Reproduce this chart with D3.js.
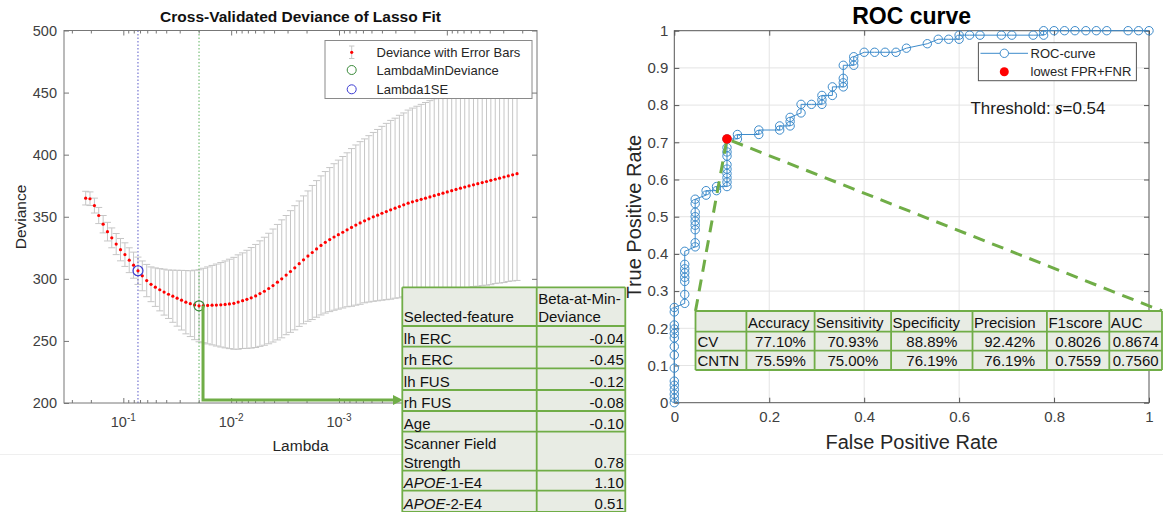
<!DOCTYPE html>
<html>
<head>
<meta charset="utf-8">
<script src="https://cdn.jsdelivr.net/npm/d3@7"></script>
<style>
  body { margin: 0; background: #fff; }
  svg { display: block; font-family: "Liberation Sans", Arial, Helvetica, sans-serif; }
</style>
</head>
<body>
<svg id="fig" width="1163" height="512"></svg>
<script>
// lasso path: log10(lambda) of the 100 fitted lambdas
const lambdaExp = [
  -0.651, -0.691, -0.732, -0.772, -0.813, -0.853, -0.893, -0.934, -0.974, -1.015,
  -1.055, -1.095, -1.136, -1.176, -1.217, -1.257, -1.297, -1.338, -1.378, -1.419,
  -1.459, -1.499, -1.540, -1.580, -1.621, -1.661, -1.702, -1.742, -1.782, -1.823,
  -1.863, -1.904, -1.944, -1.984, -2.025, -2.065, -2.106, -2.146, -2.186, -2.227,
  -2.267, -2.308, -2.348, -2.388, -2.429, -2.469, -2.510, -2.550, -2.590, -2.631,
  -2.671, -2.712, -2.752, -2.792, -2.833, -2.873, -2.914, -2.954, -2.994, -3.035,
  -3.075, -3.116, -3.156, -3.196, -3.237, -3.277, -3.318, -3.358, -3.398, -3.439,
  -3.479, -3.520, -3.560, -3.600, -3.641, -3.681, -3.722, -3.762, -3.802, -3.843,
  -3.883, -3.924, -3.964, -4.004, -4.045, -4.085, -4.126, -4.166, -4.206, -4.247,
  -4.287, -4.328, -4.368, -4.408, -4.449, -4.489, -4.530, -4.570, -4.610, -4.651
];
const deviance = [
  365, 364.5, 359, 351, 344, 338, 333, 328, 323.5, 319.5,
  315, 311, 306.5, 302.4, 298.6, 295.6, 293.3, 291.2, 289.3, 287.6,
  286, 284.4, 282.8, 281.2, 280, 279, 278.3, 278.5, 278.6, 278.8,
  278.9, 279.1, 279.4, 279.8, 280.3, 281.3, 282.4, 283.5, 284.7, 286.2,
  288.1, 290, 292.2, 294.6, 297.3, 300, 303, 305.9, 308.9, 312.2,
  315.3, 318.3, 321.2, 324.1, 326.9, 329.4, 331.6, 333.7, 335.6, 337.5,
  339.5, 341.4, 343.3, 345, 346.7, 348.3, 349.9, 351.3, 352.8, 354.2,
  355.6, 356.9, 358.2, 359.6, 360.9, 362, 363, 364, 365, 366,
  367, 368, 369, 370, 371, 372, 373, 373.9, 374.8, 375.7,
  376.6, 377.5, 378.4, 379.3, 380.2, 381.1, 382, 382.9, 383.8, 384.7
];
const devianceSE = [
  5.5, 5.5, 6, 6.5, 7, 7.5, 8, 8.5, 9, 9.5,
  10, 10.5, 11, 12, 13, 14, 15.5, 17, 18.5, 19.5,
  21, 22.5, 24, 25.5, 26.5, 28, 29, 30, 31, 32,
  33, 34, 35, 36, 37, 38, 38.5, 39.5, 40.5, 41.5,
  42.5, 43.5, 44.5, 45.5, 46.5, 47.5, 48, 49, 50, 50.5,
  51.5, 52.5, 54, 55, 56, 57, 58, 59, 60, 61,
  62, 63.5, 64.5, 65.5, 66, 67, 68, 69, 70, 71,
  72, 72.5, 73.5, 74, 75, 75.5, 76, 76.5, 77, 77.5,
  78, 78.5, 79, 79.5, 80, 80.5, 81, 81.5, 82, 82,
  82.5, 83, 83.5, 84, 84, 84.5, 85, 85, 85.5, 86
];
const lambdaMinIdx = 26;
const lambda1SEIdx = 12;

// ROC curve points
const rocFPR = [
  0, 0, 0, 0, 0, 0, 0, 0, 0, 0, 0, 0, 0, 0, 0,
  0.022, 0.022, 0.022, 0.022, 0.022, 0.022, 0.022, 0.022,
  0.044, 0.044, 0.044, 0.044, 0.044, 0.044, 0.044, 0.044, 0.044,
  0.067, 0.067, 0.089, 0.089,
  0.111, 0.111, 0.111, 0.111, 0.111, 0.111, 0.111, 0.111, 0.111, 0.111,
  0.133, 0.133, 0.178, 0.178, 0.222, 0.222, 0.244, 0.244, 0.244,
  0.267, 0.267, 0.289, 0.311, 0.311, 0.311, 0.333, 0.333,
  0.356, 0.356, 0.356, 0.356, 0.378, 0.378, 0.378,
  0.400, 0.422, 0.444, 0.467, 0.489, 0.533, 0.556, 0.578,
  0.600, 0.600, 0.622, 0.644, 0.689, 0.711, 0.756, 0.778, 0.778,
  0.800, 0.822, 0.844, 0.867, 0.889, 0.911, 0.956, 0.978, 1.000
];
const rocTPR = [
  0, 0.012, 0.023, 0.035, 0.047, 0.058, 0.093, 0.128, 0.151, 0.174, 0.186, 0.198, 0.209, 0.244, 0.256,
  0.267, 0.291, 0.326, 0.337, 0.349, 0.360, 0.372, 0.407,
  0.419, 0.430, 0.465, 0.477, 0.488, 0.500, 0.512, 0.535, 0.547,
  0.558, 0.570, 0.570, 0.581,
  0.581, 0.593, 0.605, 0.616, 0.628, 0.640, 0.663, 0.674, 0.686, 0.709,
  0.709, 0.721, 0.721, 0.733, 0.733, 0.744, 0.744, 0.756, 0.767,
  0.779, 0.802, 0.802, 0.802, 0.814, 0.826, 0.826, 0.849,
  0.849, 0.860, 0.872, 0.907, 0.907, 0.919, 0.930,
  0.942, 0.942, 0.942, 0.942, 0.953, 0.965, 0.977, 0.977,
  0.977, 0.988, 0.988, 0.988, 0.988, 0.988, 0.988, 0.988, 1,
  1, 1, 1, 1, 1, 1, 1, 1, 1
];
const bestFPR = 0.111, bestTPR = 0.709;
const threshold = 0.54;

// tables
const featureNames = ["lh ERC", "rh ERC", "lh FUS", "rh FUS", "Age", "Scanner Field Strength", "APOE-1-E4", "APOE-2-E4"];
const featureBeta = [-0.04, -0.45, -0.12, -0.08, -0.10, 0.78, 1.10, 0.51];
const metricNames = ["Accuracy", "Sensitivity", "Specificity", "Precision", "F1score", "AUC"];
const cvMetrics = [0.7710, 0.7093, 0.8889, 0.9242, 0.8026, 0.8674];
const cntnMetrics = [0.7559, 0.7500, 0.7619, 0.7619, 0.7559, 0.7560];

const svg = d3.select("#fig");
const green = "#70ad47";
const tableFill = "#e8ece4";

svg.append("line").attr("x1", 0).attr("x2", 1163).attr("y1", 454.5).attr("y2", 454.5)
  .attr("stroke", "#efefef");

function tidy(g, stroke, size) {
  g.select(".domain").remove();
  g.attr("font-family", null).attr("font-size", size);
  g.selectAll(".tick line").attr("stroke", stroke);
  g.selectAll(".tick text").attr("fill", "#404040");
}

// ================= Lasso deviance plot =================
const lx = d3.scaleLog().domain([10 ** -0.45, 10 ** -4.836]).range([64, 537]);
const ly = d3.scaleLinear().domain([200, 500]).range([403, 30.5]);
const lasso = svg.append("g");
const pts = lambdaExp.map((e, i) => ({ lam: 10 ** e, dev: deviance[i], se: devianceSE[i] }));

const bars = lasso.append("g").attr("stroke", "#c6c6c6").attr("stroke-width", 1).attr("fill", "none");
bars.selectAll("path").data(pts).join("path")
  .attr("d", d => {
    const x = lx(d.lam), y0 = ly(d.dev - d.se), y1 = ly(d.dev + d.se);
    return `M${x},${y0}V${y1}M${x - 3.5},${y1}H${x + 3.5}M${x - 3.5},${y0}H${x + 3.5}`;
  });

lasso.append("line")
  .attr("x1", lx(pts[lambda1SEIdx].lam)).attr("x2", lx(pts[lambda1SEIdx].lam))
  .attr("y1", ly(200)).attr("y2", ly(500))
  .attr("stroke", "#5a5ac8").attr("stroke-dasharray", "1.5,2");
lasso.append("line")
  .attr("x1", lx(pts[lambdaMinIdx].lam)).attr("x2", lx(pts[lambdaMinIdx].lam))
  .attr("y1", ly(200)).attr("y2", ly(500))
  .attr("stroke", "#5fb45f").attr("stroke-dasharray", "1.5,2");

lasso.append("g").selectAll("circle").data(pts).join("circle")
  .attr("cx", d => lx(d.lam)).attr("cy", d => ly(d.dev)).attr("r", 1.6).attr("fill", "#ff0000");

lasso.append("circle")
  .attr("cx", lx(pts[lambdaMinIdx].lam)).attr("cy", ly(pts[lambdaMinIdx].dev)).attr("r", 5)
  .attr("fill", "none").attr("stroke", "#3a8a3a").attr("stroke-width", 1.2);
lasso.append("circle")
  .attr("cx", lx(pts[lambda1SEIdx].lam)).attr("cy", ly(pts[lambda1SEIdx].dev)).attr("r", 5)
  .attr("fill", "none").attr("stroke", "#3c3cd2").attr("stroke-width", 1.2);

// legend
const lg = lasso.append("g").attr("font-size", 13).attr("fill", "#262626");
lg.append("rect").attr("x", 325).attr("y", 40.5).attr("width", 207).attr("height", 58)
  .attr("fill", "#fff").attr("stroke", "#8a8a8a");
lg.append("path").attr("d", "M351.7,46V58.5M349,46H354.4M349,58.5H354.4").attr("stroke", "#c6c6c6").attr("fill", "none");
lg.append("circle").attr("cx", 351.7).attr("cy", 52.3).attr("r", 1.6).attr("fill", "#ff0000");
lg.append("circle").attr("cx", 351.7).attr("cy", 70).attr("r", 4.5).attr("fill", "none").attr("stroke", "#3a8a3a");
lg.append("circle").attr("cx", 351.7).attr("cy", 89.3).attr("r", 4.5).attr("fill", "none").attr("stroke", "#3c3cd2");
lg.selectAll("text").data(["Deviance with Error Bars", "LambdaMinDeviance", "Lambda1SE"]).join("text")
  .attr("x", 376.5).attr("y", (d, i) => [56.8, 74.6, 93.8][i]).text(d => d);

// axes
const majors = [1e-1, 1e-2, 1e-3, 1e-4];
const minors = lx.ticks().filter(t => !majors.some(m => Math.abs(t - m) / m < 1e-6));
const axC = "#777";
lasso.append("g").attr("transform", "translate(0,403)")
  .call(d3.axisBottom(lx).tickValues(majors).tickSize(-5).tickFormat("")).call(tidy, axC, 14);
lasso.append("g").attr("transform", "translate(0,403)")
  .call(d3.axisBottom(lx).tickValues(minors).tickSize(-3).tickFormat("")).call(tidy, axC, 14);
lasso.append("g").attr("transform", "translate(0,30.5)")
  .call(d3.axisTop(lx).tickValues(majors).tickSize(-5).tickFormat("")).call(tidy, axC, 14);
lasso.append("g").attr("transform", "translate(0,30.5)")
  .call(d3.axisTop(lx).tickValues(minors).tickSize(-3).tickFormat("")).call(tidy, axC, 14);
lasso.append("g").attr("transform", "translate(64,0)")
  .call(d3.axisLeft(ly).tickValues(d3.range(200, 501, 50)).tickSize(-5).tickPadding(7)).call(tidy, axC, 14.5);
lasso.append("g").attr("transform", "translate(537,0)")
  .call(d3.axisRight(ly).tickValues(d3.range(200, 501, 50)).tickSize(-5).tickFormat("")).call(tidy, axC, 14);
lasso.append("rect").attr("x", 64).attr("y", 30.5).attr("width", 473).attr("height", 372.5)
  .attr("fill", "none").attr("stroke", axC);

lasso.append("g").selectAll("text").data(majors).join("text")
  .attr("x", d => lx(d)).attr("y", 427).attr("text-anchor", "middle")
  .attr("font-size", 14.5).attr("fill", "#404040")
  .each(function (d) {
    const t = d3.select(this);
    t.append("tspan").text("10");
    t.append("tspan").attr("dy", -6).attr("font-size", 10).text(Math.round(Math.log10(d)));
  });

lasso.append("text").attr("x", 300.5).attr("y", 450.5).attr("text-anchor", "middle")
  .attr("font-size", 15.5).attr("fill", "#262626").text("Lambda");
lasso.append("text").attr("transform", "translate(25.5,217) rotate(-90)").attr("text-anchor", "middle")
  .attr("font-size", 15.5).attr("fill", "#262626").text("Deviance");
lasso.append("text").attr("x", 300.5).attr("y", 22).attr("text-anchor", "middle")
  .attr("font-size", 15.5).attr("font-weight", "bold").attr("fill", "#111").text("Cross-Validated Deviance of Lasso Fit");

// arrow to feature table
const ax0 = lx(pts[lambdaMinIdx].lam) + 4;
lasso.append("path").attr("d", `M${ax0},${ly(pts[lambdaMinIdx].dev)}V400H395`)
  .attr("fill", "none").attr("stroke", green).attr("stroke-width", 3);
lasso.append("path").attr("d", "M393,395L403,400L393,405Z").attr("fill", green);

// ================= ROC plot =================
const rx = d3.scaleLinear().domain([0, 1]).range([674.3, 1149]);
const ry = d3.scaleLinear().domain([0, 1]).range([402.7, 30.7]);
const roc = svg.append("g");
const rocC = "#555";

roc.append("g").attr("stroke", "#e4e4e4")
  .call(g => g.selectAll("line.gx").data([0.2, 0.4, 0.6, 0.8]).join("line")
    .attr("x1", d => rx(d)).attr("x2", d => rx(d)).attr("y1", ry(0)).attr("y2", ry(1)))
  .call(g => g.selectAll("line.gy").data(d3.range(1, 10).map(v => v / 10)).join("line").attr("class", "gy")
    .attr("x1", rx(0)).attr("x2", rx(1)).attr("y1", d => ry(d)).attr("y2", d => ry(d)));

const fmt = d => String(+d.toFixed(1));
roc.append("g").attr("transform", `translate(0,${ry(0)})`)
  .call(d3.axisBottom(rx).tickValues(d3.range(0, 11, 2).map(v => v / 10)).tickSize(-5).tickPadding(9).tickFormat(fmt))
  .call(tidy, rocC, 15);
roc.append("g").attr("transform", `translate(0,${ry(1)})`)
  .call(d3.axisTop(rx).tickValues(d3.range(0, 11, 2).map(v => v / 10)).tickSize(-5).tickFormat(""))
  .call(tidy, rocC, 15);
roc.append("g").attr("transform", `translate(${rx(0)},0)`)
  .call(d3.axisLeft(ry).tickValues(d3.range(0, 11).map(v => v / 10)).tickSize(-5).tickPadding(6).tickFormat(fmt))
  .call(tidy, rocC, 15);
roc.append("g").attr("transform", `translate(${rx(1)},0)`)
  .call(d3.axisRight(ry).tickValues(d3.range(0, 11).map(v => v / 10)).tickSize(-5).tickFormat(""))
  .call(tidy, rocC, 15);
roc.append("rect").attr("x", rx(0)).attr("y", ry(1)).attr("width", rx(1) - rx(0)).attr("height", ry(0) - ry(1))
  .attr("fill", "none").attr("stroke", rocC);

const rocPts = rocFPR.map((f, i) => [f, rocTPR[i]]);
const blue = "#3d8bcb";
roc.append("path").datum(rocPts)
  .attr("d", d3.line().x(d => rx(d[0])).y(d => ry(d[1])))
  .attr("fill", "none").attr("stroke", blue).attr("stroke-width", 1);
roc.append("g").selectAll("circle").data(rocPts).join("circle")
  .attr("cx", d => rx(d[0])).attr("cy", d => ry(d[1])).attr("r", 4.2)
  .attr("fill", "none").attr("stroke", blue).attr("stroke-width", 1);

// dashed pointers to the metrics table
const tX = [695.5, 746.4, 814.6, 891.1, 972.5, 1046.9, 1109.3, 1162];
const tY = [311, 331.7, 350.7, 370];
roc.append("path")
  .attr("d", `M${tX[0]},${tY[0]}L${rx(bestFPR)},${ry(bestTPR)}L${tX[7]},${tY[0]}`)
  .attr("fill", "none").attr("stroke", green).attr("stroke-width", 3).attr("stroke-dasharray", "12,8");

roc.append("circle").attr("cx", rx(bestFPR)).attr("cy", ry(bestTPR)).attr("r", 4.8).attr("fill", "#ff0000");

// legend
const rl = roc.append("g").attr("font-size", 13).attr("fill", "#262626");
rl.append("rect").attr("x", 978.4).attr("y", 42.7).attr("width", 158).attr("height", 38)
  .attr("fill", "#fff").attr("stroke", rocC);
rl.append("line").attr("x1", 980.5).attr("x2", 1028).attr("y1", 53.3).attr("y2", 53.3).attr("stroke", blue);
rl.append("circle").attr("cx", 1004.3).attr("cy", 53.3).attr("r", 4.2).attr("fill", "#fff").attr("stroke", blue);
rl.append("circle").attr("cx", 1004.3).attr("cy", 71.7).attr("r", 4.5).attr("fill", "#ff0000");
rl.append("text").attr("x", 1030.5).attr("y", 58).text("ROC-curve");
rl.append("text").attr("x", 1030.5).attr("y", 76.3).text("lowest FPR+FNR");

const th = roc.append("text").attr("x", 970.4).attr("y", 114.3).attr("font-size", 17).attr("fill", "#1a1a1a");
th.append("tspan").text("Threshold: ");
th.append("tspan").attr("font-family", "'Liberation Serif', 'Times New Roman', serif").attr("font-style", "italic")
  .attr("font-weight", "bold").attr("font-size", 18).text("s");
th.append("tspan").text("=" + threshold.toFixed(2));

roc.append("text").attr("x", (rx(0) + rx(1)) / 2).attr("y", 23.5).attr("text-anchor", "middle")
  .attr("font-size", 23).attr("font-weight", "bold").attr("fill", "#000").text("ROC curve");
roc.append("text").attr("x", (rx(0) + rx(1)) / 2).attr("y", 449).attr("text-anchor", "middle")
  .attr("font-size", 20).attr("fill", "#262626").text("False Positive Rate");
roc.append("text").attr("transform", `translate(641,${(ry(0) + ry(1)) / 2}) rotate(-90)`).attr("text-anchor", "middle")
  .attr("font-size", 20).attr("fill", "#262626").text("True Positive Rate");

// ================= tables =================
function cellGrid(g, xs, ys) {
  g.append("rect").attr("x", xs[0]).attr("y", ys[0]).attr("width", xs[xs.length - 1] - xs[0])
    .attr("height", ys[ys.length - 1] - ys[0]).attr("fill", tableFill);
  g.selectAll("line.h").data(ys).join("line").attr("class", "h")
    .attr("x1", xs[0]).attr("x2", xs[xs.length - 1]).attr("y1", d => d).attr("y2", d => d)
    .attr("stroke", green).attr("stroke-width", 1.8);
  g.selectAll("line.v").data(xs).join("line").attr("class", "v")
    .attr("x1", d => d).attr("x2", d => d).attr("y1", ys[0]).attr("y2", ys[ys.length - 1])
    .attr("stroke", green).attr("stroke-width", 1.8);
}

// feature table
const fX = [402.3, 536.7, 625.3];
const fY = [287.3, 326, 346.7, 368.3, 390, 411, 431.7, 470.7, 490.7, 512];
const ft = svg.append("g").attr("font-size", 15).attr("fill", "#111");
cellGrid(ft, fX, fY);
ft.append("text").attr("x", fX[0] + 1.5).attr("y", fY[1] - 4).text("Selected-feature");
ft.append("text").attr("x", fX[1] + 1.5).attr("y", fY[1] - 22.5).text("Beta-at-Min-");
ft.append("text").attr("x", fX[1] + 1.5).attr("y", fY[1] - 4).text("Deviance");
featureNames.forEach((name, i) => {
  const yb = fY[i + 2] - 3;
  const t = ft.append("text").attr("x", fX[0] + 1.5).attr("y", yb);
  if (name.length > 14) {
    const cut = name.lastIndexOf(" ");
    ft.append("text").attr("x", fX[0] + 1.5).attr("y", yb - 19).text(name.slice(0, cut));
    t.text(name.slice(cut + 1));
  } else if (name.startsWith("APOE")) {
    t.append("tspan").attr("font-style", "italic").text("APOE");
    t.append("tspan").text(name.slice(4));
  } else {
    t.text(name);
  }
  ft.append("text").attr("x", fX[2] - 1.5).attr("y", yb).attr("text-anchor", "end")
    .text(featureBeta[i].toFixed(2));
});

// metrics table
const mt = svg.append("g").attr("font-size", 15).attr("fill", "#111");
cellGrid(mt, tX, tY);
const mfmt = (v, i) => i < 4 ? (v * 100).toFixed(2) + "%" : v.toFixed(4);
metricNames.forEach((m, i) => {
  mt.append("text").attr("x", tX[i + 1] + 1.5).attr("y", tY[1] - 4).text(m);
  mt.append("text").attr("x", (tX[i + 1] + tX[i + 2]) / 2).attr("y", tY[2] - 4).attr("text-anchor", "middle").text(mfmt(cvMetrics[i], i));
  mt.append("text").attr("x", (tX[i + 1] + tX[i + 2]) / 2).attr("y", tY[3] - 4).attr("text-anchor", "middle").text(mfmt(cntnMetrics[i], i));
});
mt.append("text").attr("x", tX[0] + 2).attr("y", tY[2] - 4).text("CV");
mt.append("text").attr("x", tX[0] + 2).attr("y", tY[3] - 4).text("CNTN");
</script>
</body>
</html>
